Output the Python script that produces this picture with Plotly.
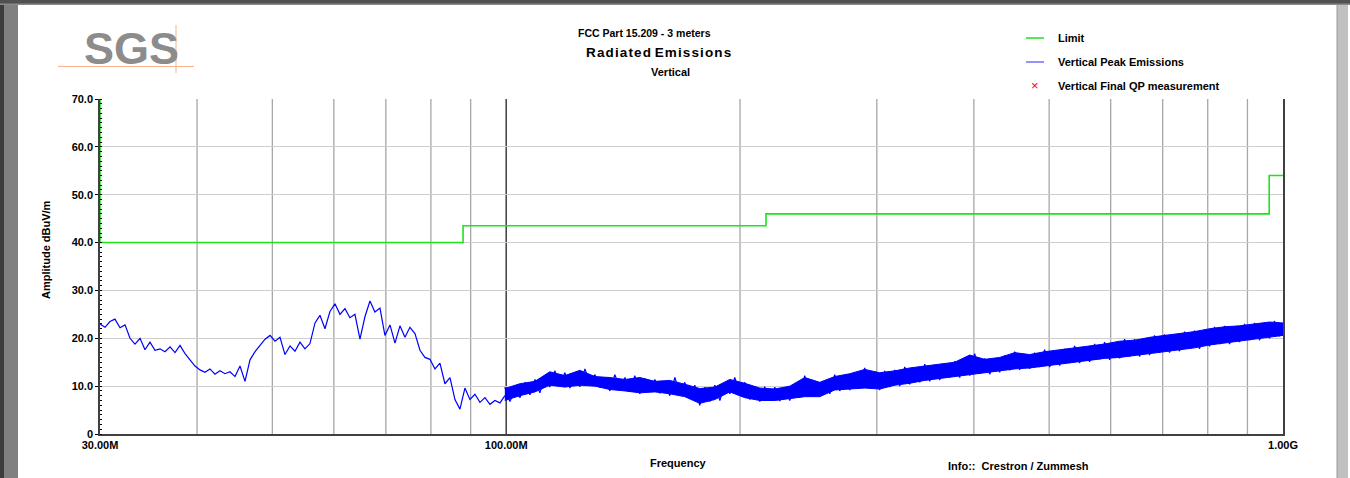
import plotly.graph_objects as go

# ---------------- data ----------------
limit_freq_mhz = [30, 30, 88, 88, 216, 216, 960, 960, 1000]
limit_dbuv = [70, 40, 40, 43.5, 43.5, 46, 46, 54, 54]

# peak trace, 30 MHz .. 100 MHz
peak_freq_mhz = [
    30.00, 30.45, 30.90, 31.36, 31.83, 32.31, 32.79, 33.28, 33.78, 34.28,
    34.79, 35.31, 35.84, 36.37, 36.92, 37.47, 38.03, 38.60, 39.17, 39.76,
    40.35, 40.95, 41.56, 42.18, 42.81, 43.45, 44.10, 44.76, 45.43, 46.11,
    46.80, 47.50, 48.21, 48.93, 49.66, 50.40, 51.15, 51.91, 52.69, 53.47,
    54.27, 55.08, 55.90, 56.74, 57.58, 58.44, 59.31, 60.20, 61.10, 62.01,
    62.93, 63.87, 64.83, 65.79, 66.78, 67.77, 68.79, 69.81, 70.86, 71.92,
    72.99, 74.08, 75.18, 76.31, 77.45, 78.60, 79.77, 80.97, 82.17, 83.40,
    84.65, 85.91, 87.19, 88.49, 89.81, 91.16, 92.52, 93.90, 95.30, 96.72,
    98.17, 99.63]
peak_dbuv = [
    23.0, 22.3, 23.5, 24.0, 22.2, 22.8, 20.0, 18.8, 20.0, 17.6,
    19.2, 17.5, 17.8, 17.2, 18.2, 17.0, 18.5, 16.8, 15.5, 14.2,
    13.4, 12.9, 13.6, 12.5, 13.2, 12.6, 13.0, 12.0, 14.2, 11.0,
    15.5, 17.2, 18.5, 19.8, 20.6, 19.4, 20.2, 16.6, 18.4, 17.3,
    19.2, 17.8, 18.9, 23.2, 24.8, 22.0, 25.6, 27.2, 25.0, 26.2,
    24.3, 25.0, 19.8, 24.5, 27.8, 25.5, 26.3, 20.6, 22.8, 19.0,
    22.6, 20.2, 22.3, 21.0, 17.5, 16.0, 15.6, 13.6, 14.8, 10.5,
    11.8, 7.2, 5.2, 9.6, 7.2, 8.3, 6.6, 7.6, 6.2, 7.0,
    6.5, 8.0]

# peak trace 100 MHz .. 1 GHz: dense noise band (min / max envelope)
band_freq_mhz = [
    99.6, 104.1, 108.9, 113.8, 119.0, 124.4, 130.1, 136.0, 142.2, 148.6,
    155.4, 162.4, 169.8, 177.5, 185.6, 194.0, 202.8, 212.1, 221.7, 231.8,
    242.3, 253.3, 264.8, 276.9, 289.5, 302.6, 316.4, 330.7, 345.8, 361.5,
    377.9, 395.1, 413.1, 431.8, 451.5, 472.0, 493.4, 515.8, 539.3, 563.8,
    589.4, 616.2, 644.2, 673.5, 704.1, 736.1, 769.6, 804.5, 841.1, 879.3,
    919.3, 961.0, 1000.0]
band_min_dbuv = [
    7.0, 8.0, 8.8, 10.2, 9.8, 10.2, 10.0, 9.3, 9.0, 8.6,
    8.8, 8.4, 7.8, 6.4, 7.2, 8.8, 7.6, 7.0, 7.0, 7.4,
    7.8, 7.8, 9.2, 9.4, 9.6, 9.4, 10.2, 10.6, 11.2, 11.6,
    12.0, 12.4, 12.8, 13.2, 13.6, 13.8, 14.2, 14.6, 15.0, 15.4,
    15.8, 16.0, 16.4, 16.8, 17.2, 17.6, 18.0, 18.6, 19.0, 19.4,
    19.8, 20.2, 20.6]
band_max_dbuv = [
    9.5, 10.5, 11.0, 13.0, 12.2, 13.3, 12.0, 11.8, 11.4, 11.8,
    11.0, 11.2, 10.4, 9.5, 9.8, 11.4, 10.6, 9.6, 9.4, 10.0,
    11.8, 10.8, 12.0, 12.6, 13.5, 12.8, 13.2, 13.8, 14.2, 14.6,
    15.0, 16.5, 15.6, 16.0, 17.0, 16.6, 17.2, 17.6, 18.0, 18.4,
    18.8, 19.4, 19.6, 20.2, 20.6, 21.0, 21.4, 22.0, 22.4, 22.6,
    23.0, 23.4, 23.2]

# finer peak samples over the band (alternating peaks / troughs)
hf_freq_mhz = [
    99.6, 101.1, 102.6, 104.2, 105.7, 107.3, 108.9, 110.5, 112.2,
    113.8, 115.5, 117.3, 119.0, 120.8, 122.6, 124.4, 126.3, 128.2,
    130.1, 132.0, 134.0, 136.0, 138.0, 140.1, 142.2, 144.3, 146.4,
    148.6, 150.8, 153.1, 155.4, 157.7, 160.0, 162.4, 164.9, 167.3,
    169.8, 172.3, 174.9, 177.5, 180.2, 182.9, 185.6, 188.4, 191.2,
    194.0, 196.9, 199.9, 202.9, 205.9, 208.9, 212.1, 215.2, 218.5,
    221.7, 225.0, 228.4, 231.8, 235.2, 238.8, 242.3, 245.9, 249.6,
    253.3, 257.1, 261.0, 264.8, 268.8, 272.8, 276.9, 281.0, 285.2,
    289.4, 293.8, 298.1, 302.6, 307.1, 311.7, 316.4, 321.1, 325.9,
    330.7, 335.7, 340.7, 345.8, 350.9, 356.2, 361.5, 366.9, 372.3,
    377.9, 383.5, 389.3, 395.1, 401.0, 406.9, 413.0, 419.2, 425.4,
    431.8, 438.2, 444.8, 451.4, 458.1, 465.0, 471.9, 479.0, 486.1,
    493.3, 500.7, 508.2, 515.8, 523.5, 531.3, 539.2, 547.2, 555.4,
    563.7, 572.1, 580.6, 589.3, 598.1, 607.0, 616.1, 625.3, 634.6,
    644.1, 653.7, 663.5, 673.3, 683.4, 693.6, 703.9, 714.4, 725.1,
    735.9, 746.9, 758.0, 769.4, 780.8, 792.5, 804.3, 816.3, 828.5,
    840.9, 853.4, 866.2, 879.1, 892.2, 905.5, 919.0, 932.7, 946.7,
    960.8, 975.1, 989.7, 1000.0]
hf_dbuv = [
    9.8, 6.8, 9.0, 7.6, 10.8, 8.2, 11.4, 8.6, 12.2,
    9.8, 13.2, 10.4, 12.8, 9.6, 11.8, 9.9, 13.6, 10.6,
    12.4, 9.7, 11.6, 9.0, 12.4, 9.6, 11.8, 8.8, 12.2,
    8.4, 11.6, 9.0, 11.4, 8.5, 11.0, 8.0, 11.8, 8.4,
    10.8, 7.4, 10.2, 6.0, 9.8, 6.8, 10.2, 7.0, 10.6,
    8.4, 11.8, 8.6, 10.8, 7.2, 10.0, 6.8, 9.9, 7.2,
    9.8, 6.9, 9.6, 7.0, 10.4, 7.6, 12.2, 7.8, 10.6,
    7.9, 11.0, 8.4, 12.4, 9.0, 11.8, 9.2, 12.8, 9.6,
    13.8, 9.5, 12.6, 9.2, 13.2, 9.8, 13.4, 10.0, 14.0,
    10.4, 13.6, 10.8, 14.6, 11.0, 14.0, 11.3, 14.8, 11.8,
    15.2, 11.8, 15.6, 12.2, 16.8, 12.6, 15.8, 12.5, 15.4,
    12.9, 16.4, 13.3, 17.2, 13.4, 16.6, 13.6, 17.0, 14.0,
    17.6, 14.0, 17.0, 14.3, 17.8, 14.8, 18.4, 14.8, 17.8,
    15.1, 18.8, 15.6, 19.2, 15.5, 18.6, 15.8, 19.8, 16.2,
    19.8, 16.2, 19.4, 16.5, 20.6, 17.0, 20.8, 17.0, 20.4,
    17.3, 21.4, 17.8, 21.6, 17.8, 21.2, 18.3, 22.4, 18.8,
    22.6, 18.8, 22.2, 19.2, 23.0, 19.6, 23.2, 19.6, 22.8,
    20.0, 23.6, 20.4, 23.2]

y_tick_vals = [0, 10, 20, 30, 40, 50, 60, 70]
y_tick_text = ["0", "10.0", "20.0", "30.0", "40.0", "50.0", "60.0", "70.0"]
x_tick_vals = [30, 100, 1000]
x_tick_text = ["30.00M", "100.00M", "1.00G"]
x_grid_mhz = [40, 50, 60, 70, 80, 90, 200, 300, 400, 500, 600, 700, 800, 900]
x_grid_major_mhz = [100]

# ---------------- layout helpers (pixel -> paper) ----------------
W, H = 1350, 478
L, R, T, B = 100, 1283, 99, 434


def px(x):
    return (x - L) / (R - L)


def py(y):
    return (B - y) / (B - T)


BLUE = "#0000ff"
GREEN = "#19e619"
FONT = "Liberation Sans, Arial, sans-serif"

fig = go.Figure()

fig.add_trace(go.Scatter(x=band_freq_mhz, y=band_min_dbuv, mode="lines",
                         line=dict(color=BLUE, width=1), showlegend=False,
                         hoverinfo="skip"))
fig.add_trace(go.Scatter(x=band_freq_mhz, y=band_max_dbuv, mode="lines",
                         line=dict(color=BLUE, width=1), fill="tonexty",
                         fillcolor=BLUE, showlegend=False))
fig.add_trace(go.Scatter(x=hf_freq_mhz, y=hf_dbuv, mode="lines",
                         line=dict(color=BLUE, width=1.2), showlegend=False))
fig.add_trace(go.Scatter(x=peak_freq_mhz, y=peak_dbuv, mode="lines",
                         line=dict(color=BLUE, width=1.2),
                         name="Vertical Peak Emissions", showlegend=False))
fig.add_trace(go.Scatter(x=limit_freq_mhz, y=limit_dbuv, mode="lines",
                         line=dict(color=GREEN, width=1.6), name="Limit",
                         showlegend=False, cliponaxis=False))

shapes = []
# vertical grid lines
for f in x_grid_mhz:
    shapes.append(dict(type="line", xref="x", yref="paper", x0=f, x1=f, y0=0, y1=1,
                       line=dict(color="#a6a6a6", width=1.3), layer="below"))
for f in x_grid_major_mhz:
    shapes.append(dict(type="line", xref="x", yref="paper", x0=f, x1=f, y0=0, y1=1,
                       line=dict(color="#202020", width=1.3), layer="below"))

# window frame
shapes += [
    dict(type="rect", xref="paper", yref="paper", x0=px(0), x1=px(4), y0=py(H), y1=py(0),
         fillcolor="#3c3c3c", line=dict(width=0), layer="below"),
    dict(type="rect", xref="paper", yref="paper", x0=px(4), x1=px(18), y0=py(H), y1=py(0),
         fillcolor="#808080", line=dict(width=0), layer="below"),
    dict(type="rect", xref="paper", yref="paper", x0=px(0), x1=px(W), y0=py(5), y1=py(0),
         fillcolor="#505050", line=dict(width=0), layer="below"),
    dict(type="rect", xref="paper", yref="paper", x0=px(0), x1=px(W), y0=py(5), y1=py(3.5),
         fillcolor="#8a8a8a", line=dict(width=0), layer="below"),
    dict(type="rect", xref="paper", yref="paper", x0=px(1337), x1=px(1348), y0=py(H), y1=py(5),
         fillcolor="#c0c0c0", line=dict(width=0), layer="below"),
    dict(type="line", xref="paper", yref="paper", x0=px(1337), x1=px(1337), y0=py(H), y1=py(5),
         line=dict(color="#9a9a9a", width=1), layer="below"),
]
# logo lines
shapes += [
    dict(type="line", xref="paper", yref="paper", x0=px(58), x1=px(194), y0=py(66.5), y1=py(66.5),
         line=dict(color="#f5b48c", width=1)),
    dict(type="line", xref="paper", yref="paper", x0=px(176), x1=px(176), y0=py(25), y1=py(73),
         line=dict(color="#f5b48c", width=1)),
]
# legend samples
shapes += [
    dict(type="line", xref="paper", yref="paper", x0=px(1026), x1=px(1044), y0=py(38), y1=py(38),
         line=dict(color=GREEN, width=1.5)),
    dict(type="line", xref="paper", yref="paper", x0=px(1026), x1=px(1044), y0=py(62), y1=py(62),
         line=dict(color="#7070ff", width=1.5)),
]


def ann(text, x, y, size=11, xanchor="center", yanchor="middle", color="#000", bold=True,
        angle=0, family=FONT):
    return dict(text=f"<b>{text}</b>" if bold else text, x=px(x), y=py(y), xref="paper",
                yref="paper", showarrow=False, xanchor=xanchor, yanchor=yanchor,
                textangle=angle, font=dict(family=family, size=size, color=color))


HS = "&#8202;"
spaced_title = " ".join(HS.join(word) for word in "Radiated Emissions".split(" "))

annotations = [
    ann("SGS", 131, 48, size=45, color="#8c8c8c"),
    ann("FCC Part 15.209 - 3 meters", 644, 33, size=10.5),
    ann(spaced_title, 658, 53, size=13.5),
    ann("Vertical", 670, 72, size=11),
    ann("Limit", 1056, 38, xanchor="left"),
    ann("Vertical Peak Emissions", 1056, 62, xanchor="left"),
    ann("Vertical Final QP measurement", 1056, 86, xanchor="left"),
    ann("\u00d7", 1035, 86, size=13, color="#ff0000", bold=False),
    ann("Amplitude dBuV/m", 46, 250, angle=-90),
    ann("Frequency", 678, 463),
    ann("Info::  Crestron / Zummesh", 946, 466, xanchor="left"),
]

fig.update_layout(
    width=W, height=H, autosize=False,
    margin=dict(l=L, r=W - R, t=T, b=H - B, pad=0),
    paper_bgcolor="white", plot_bgcolor="white",
    shapes=shapes, annotations=annotations, showlegend=False,
    font=dict(family=FONT, size=11, color="#000"),
)
fig.update_xaxes(type="log", range=[1.4771213, 3.0], tickvals=x_tick_vals,
                 ticktext=x_tick_text, showgrid=False, zeroline=False,
                 showline=True, linecolor="#404040", linewidth=1.5, ticks="",
                 tickfont=dict(family=FONT, size=11, color="#000", weight="bold"))
fig.update_yaxes(range=[0, 70], tickvals=y_tick_vals, ticktext=y_tick_text,
                 showgrid=True, gridcolor="#cfcfcf", gridwidth=1.3, zeroline=False,
                 showline=True, linecolor="#404040", linewidth=1.5, mirror=True,
                 ticks="outside", ticklen=3, tickcolor="#000", tickwidth=1,
                 minor=dict(dtick=1, ticks="inside", ticklen=2, tickcolor="#000",
                            showgrid=False),
                 tickfont=dict(family=FONT, size=11, color="#000", weight="bold"))

fig.write_html("out.html")
